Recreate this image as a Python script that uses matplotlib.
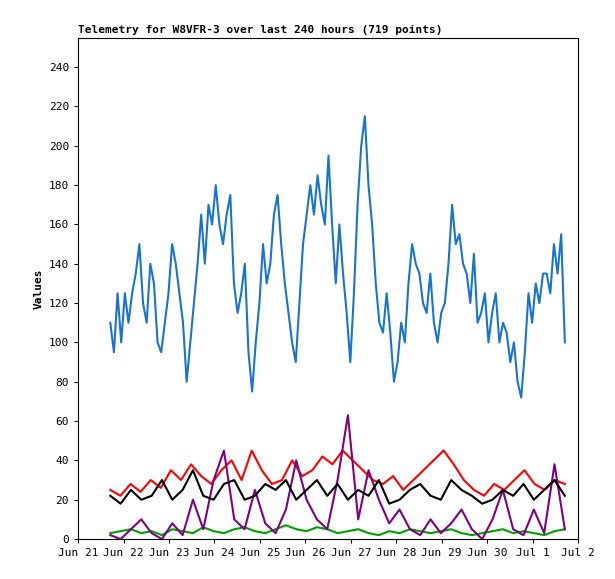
import numpy as np
import pandas as pd
import matplotlib
matplotlib.use('Agg')
import matplotlib.pyplot as plt

# traced values, evenly sampled over the 240 hour window
blue = [110, 95, 125, 100, 125, 110, 125, 135, 150, 120, 110, 140, 130, 100, 95, 110, 125, 150, 140, 125,
        110, 80, 100, 120, 140, 165, 140, 170, 160, 180, 160, 150, 165, 175, 130, 115, 125, 140, 95, 75,
        100, 120, 150, 130, 140, 165, 175, 150, 130, 115, 100, 90, 120, 150, 165, 180, 165, 185, 170, 160,
        195, 160, 130, 160, 135, 115, 90, 125, 170, 200, 215, 180, 160, 130, 110, 105, 125, 105, 80, 90,
        110, 100, 130, 150, 140, 135, 120, 115, 135, 110, 100, 115, 120, 140, 170, 150, 155, 140, 135, 120,
        145, 110, 115, 125, 100, 115, 125, 100, 110, 105, 90, 100, 80, 72, 95, 125, 110, 130, 120, 135,
        135, 125, 150, 135, 155, 100]
red = [25, 22, 28, 24, 30, 26, 35, 30, 38, 32, 28, 35, 40, 30, 45, 35, 28, 30, 40, 32, 35, 42, 38, 45,
       40, 35, 30, 28, 32, 25, 30, 35, 40, 45, 38, 30, 25, 22, 28, 25, 30, 35, 28, 25, 30, 28]
black = [22, 18, 25, 20, 22, 30, 20, 25, 35, 22, 20, 28, 30, 20, 22, 28, 25, 30, 20, 25, 30, 22, 28,
         20, 25, 22, 30, 18, 20, 25, 28, 22, 20, 30, 25, 22, 18, 20, 25, 22, 28, 20, 25, 30, 22]
green = [3, 4, 5, 3, 4, 2, 5, 4, 3, 6, 4, 3, 5, 6, 4, 3, 5, 7, 5, 4, 6, 5, 3, 4, 5, 3, 2, 4, 3, 5, 4,
         3, 4, 5, 3, 2, 3, 4, 5, 3, 4, 3, 2, 4, 5]
purple = [2, 0, 5, 10, 3, 0, 8, 2, 20, 5, 30, 45, 10, 5, 25, 8, 3, 15, 40, 20, 10, 5, 30, 63, 10, 35,
          20, 8, 15, 5, 2, 10, 3, 8, 15, 5, 0, 10, 25, 5, 2, 15, 3, 38, 5]

start = pd.Timestamp('2023-06-21 17:00')
end = start + pd.Timedelta(hours=240)

def times(n):
    return pd.date_range(start, end, periods=n)

fig = plt.figure(figsize=(6.15, 5.79), dpi=100)
ax = fig.add_axes([0.127, 0.069, 0.813, 0.866])
mono = 'DejaVu Sans Mono'

ax.plot(times(len(blue)), blue, color='#1874cd', lw=1.5)
ax.plot(times(len(red)), red, color='#ff0000', lw=1.5)
ax.plot(times(len(green)), green, color='#00a000', lw=1.5)
ax.plot(times(len(purple)), purple, color='#800080', lw=1.5)
ax.plot(times(len(black)), black, color='black', lw=1.5)

days = pd.date_range('2023-06-21', '2023-07-02', freq='D')
ax.set_xticks(days)
ax.set_xticklabels([d.strftime('%b %-d') for d in days], fontsize=8, family=mono)
ax.set_xlim(days[0], days[-1])
ax.set_ylim(0, 255)
ax.set_yticks(range(0, 241, 20))
ax.tick_params(labelsize=8, length=3)
for lab in ax.get_yticklabels():
    lab.set_family(mono)
ax.set_ylabel('Values', fontsize=8, family=mono, fontweight='bold')
ax.set_title('Telemetry for W8VFR-3 over last 240 hours (719 points)', loc='left',
             fontsize=8, family=mono, fontweight='bold', pad=3)
fig.savefig('out.png', dpi=100)
